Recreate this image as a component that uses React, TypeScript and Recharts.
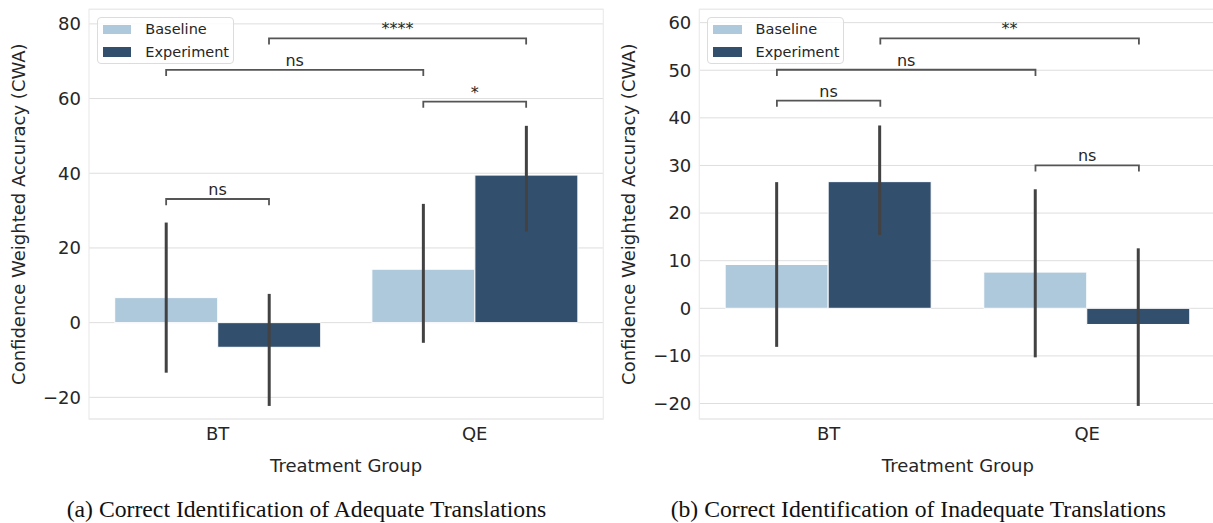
import React from 'react';
import {
  ComposedChart,
  Bar,
  XAxis,
  YAxis,
  ErrorBar,
  Line,
  ReferenceArea,
  ReferenceDot,
  CartesianGrid,
  Legend,
} from 'recharts';

// ---------- data ----------
const groups = ['BT', 'QE'];
const seriesNames = ['Baseline', 'Experiment'];
const hueOffsets = [-0.2, 0.2];

// Panel (a): Correct Identification of Adequate Translations
const adequateBaseline = [6.7, 14.3];
const adequateBaselineCI = [[-13.4, 26.8], [-5.4, 31.8]];
const adequateExperiment = [-6.6, 39.5];
const adequateExperimentCI = [[-22.3, 7.7], [24.4, 52.7]];
const adequateTicks = [-20, 0, 20, 40, 60, 80];
const adequateDomain = [-25.8, 83.9];
const adequateBrackets = [
  { from: [0, 0], to: [0, 1], y: 33.1, label: 'ns' },
  { from: [0, 0], to: [1, 0], y: 67.7, label: 'ns' },
  { from: [1, 0], to: [1, 1], y: 59.2, label: '*' },
  { from: [0, 1], to: [1, 1], y: 76.1, label: '****' },
];

// Panel (b): Correct Identification of Inadequate Translations
const inadequateBaseline = [9.2, 7.6];
const inadequateBaselineCI = [[-8.1, 26.5], [-10.3, 25.0]];
const inadequateExperiment = [26.6, -3.4];
const inadequateExperimentCI = [[15.4, 38.4], [-20.5, 12.6]];
const inadequateTicks = [-20, -10, 0, 10, 20, 30, 40, 50, 60];
const inadequateDomain = [-23.25, 62.8];
const inadequateBrackets = [
  { from: [0, 0], to: [0, 1], y: 43.6, label: 'ns' },
  { from: [0, 0], to: [1, 0], y: 50.1, label: 'ns' },
  { from: [1, 0], to: [1, 1], y: 30.0, label: 'ns' },
  { from: [0, 1], to: [1, 1], y: 56.7, label: '**' },
];

const captions = [
  '(a) Correct Identification of Adequate Translations',
  '(b) Correct Identification of Inadequate Translations',
];
const xLabel = 'Treatment Group';
const yLabel = 'Confidence Weighted Accuracy (CWA)';

// ---------- styles ----------
const LIGHT = '#aec8dc';
const DARK = '#324f6e';
const TEXT = '#262626';
const FONT = 'DejaVu Sans';
const TIP_FRACTION = 0.015;

const fmtTick = (v: number) => (v < 0 ? `\u2212${Math.abs(v)}` : `${v}`);

function buildRows(base: number[], baseCI: number[][], exp: number[], expCI: number[][]) {
  return groups.map((g, i) => ({
    group: g,
    base: base[i],
    baseErr: [base[i] - baseCI[i][0], baseCI[i][1] - base[i]],
    exp: exp[i],
    expErr: [exp[i] - expCI[i][0], expCI[i][1] - exp[i]],
  }));
}

const LegendBox = (props: any) => {
  const items = (props.payload || []).filter((p: any) => p.type !== 'none');
  return (
    <div
      style={{
        width: 137.3,
        height: 47.6,
        boxSizing: 'border-box',
        border: '1px solid #dcdcdc',
        borderRadius: 4,
        background: 'rgba(255,255,255,0.85)',
        paddingTop: 0.5,
        fontFamily: FONT,
      }}
    >
      {items.map((p: any) => (
        <div key={p.value} style={{ display: 'flex', alignItems: 'center', height: 22.6 }}>
          <span
            style={{
              display: 'inline-block',
              width: 28.7,
              height: 9.3,
              marginLeft: 5,
              background: p.color,
            }}
          />
          <span style={{ marginLeft: 14, fontSize: 14.5, color: TEXT, lineHeight: 1 }}>{p.value}</span>
        </div>
      ))}
    </div>
  );
};

const YLabel = (props: any) => {
  const vb = props.viewBox || { x: 0, y: 0, width: 0, height: 0 };
  const cx = vb.x + 25.5;
  const cy = vb.y + vb.height / 2;
  return (
    <text
      x={cx}
      y={cy}
      transform={`rotate(-90, ${cx}, ${cy})`}
      textAnchor="middle"
      fill={TEXT}
      fontSize={18}
      fontFamily={FONT}
    >
      {yLabel}
    </text>
  );
};

type PanelProps = {
  left: number;
  yAxisWidth: number;
  marginRight: number;
  rows: any[];
  ticks: number[];
  domain: number[];
  brackets: { from: number[]; to: number[]; y: number; label: string }[];
};

const Panel = ({ left, yAxisWidth, marginRight, rows, ticks, domain, brackets }: PanelProps) => {
  const tip = (domain[1] - domain[0]) * TIP_FRACTION;
  return (
    <div style={{ position: 'absolute', left, top: 0 }}>
      <ComposedChart
        width={620}
        height={523}
        data={rows}
        margin={{ top: 9.3, right: marginRight, bottom: 44, left: 0 }}
        barCategoryGap="10%"
        barGap={0}
      >
        <CartesianGrid vertical={false} stroke="#dedede" strokeWidth={1} />
        <XAxis
          dataKey="group"
          type="category"
          height={60}
          axisLine={false}
          tickLine={false}
          tickSize={0}
          tickMargin={8}
          tick={{ fill: TEXT, fontSize: 18, fontFamily: FONT }}
          label={{ value: xLabel, position: 'insideBottom', offset: 7, fill: TEXT, fontSize: 18, fontFamily: FONT }}
        />
        <XAxis xAxisId="num" type="number" dataKey="x" domain={[-0.5, 1.5]} allowDataOverflow hide />
        <YAxis
          type="number"
          width={yAxisWidth}
          domain={domain}
          ticks={ticks}
          interval={0}
          allowDataOverflow
          axisLine={false}
          tickLine={false}
          tickSize={0}
          tickMargin={8}
          tickFormatter={fmtTick}
          tick={{ fill: TEXT, fontSize: 18, fontFamily: FONT }}
          label={<YLabel />}
        />
        <ReferenceArea
          xAxisId="num"
          x1={-0.5}
          x2={1.5}
          y1={domain[0]}
          y2={domain[1]}
          fill="none"
          stroke="#ebebeb"
          strokeWidth={1.2}
          ifOverflow="visible"
        />
        <Bar dataKey="base" name={seriesNames[0]} fill={LIGHT} stroke="#ffffff" strokeWidth={1} isAnimationActive={false}>
          <ErrorBar dataKey="baseErr" direction="y" width={0} stroke="#424242" strokeWidth={3} />
        </Bar>
        <Bar dataKey="exp" name={seriesNames[1]} fill={DARK} stroke="#ffffff" strokeWidth={1} isAnimationActive={false}>
          <ErrorBar dataKey="expErr" direction="y" width={0} stroke="#424242" strokeWidth={3} />
        </Bar>
        {brackets.map((b, i) => {
          const x1 = b.from[0] + hueOffsets[b.from[1]];
          const x2 = b.to[0] + hueOffsets[b.to[1]];
          const pts = [
            { x: x1, y: b.y - tip },
            { x: x1, y: b.y },
            { x: x2, y: b.y },
            { x: x2, y: b.y - tip },
          ];
          return (
            <Line
              key={`br-${i}`}
              xAxisId="num"
              data={pts}
              dataKey="y"
              type="linear"
              stroke="#555555"
              strokeWidth={1.8}
              dot={false}
              activeDot={false}
              legendType="none"
              isAnimationActive={false}
            />
          );
        })}
        {brackets.map((b, i) => {
          const x1 = b.from[0] + hueOffsets[b.from[1]];
          const x2 = b.to[0] + hueOffsets[b.to[1]];
          return (
            <ReferenceDot
              key={`lb-${i}`}
              xAxisId="num"
              x={(x1 + x2) / 2}
              y={b.y}
              r={0}
              fill="none"
              stroke="none"
              label={{ value: b.label, position: 'top', offset: 4, fill: TEXT, fontSize: 16, fontFamily: FONT }}
            />
          );
        })}
        <Legend
          layout="vertical"
          align="center"
          verticalAlign="middle"
          content={<LegendBox />}
          wrapperStyle={{ left: yAxisWidth + 7.6, top: 16.7, width: 'auto', height: 'auto' }}
        />
      </ComposedChart>
    </div>
  );
};

export default function App() {
  const rowsA = buildRows(adequateBaseline, adequateBaselineCI, adequateExperiment, adequateExperimentCI);
  const rowsB = buildRows(inadequateBaseline, inadequateBaselineCI, inadequateExperiment, inadequateExperimentCI);
  return (
    <div
      style={{
        position: 'absolute',
        left: 0,
        top: 0,
        width: 1213,
        height: 523,
        overflow: 'hidden',
        background: '#ffffff',
        fontFamily: FONT,
      }}
    >
      <Panel left={0} yAxisWidth={89} marginRight={16.7} rows={rowsA} ticks={adequateTicks} domain={adequateDomain} brackets={adequateBrackets} />
      <Panel left={610} yAxisWidth={89.3} marginRight={13.5} rows={rowsB} ticks={inadequateTicks} domain={inadequateDomain} brackets={inadequateBrackets} />
      <svg width={1213} height={523} style={{ position: 'absolute', left: 0, top: 0, pointerEvents: 'none' }}>
        <text x={306.5} y={517} textAnchor="middle" fontFamily="Liberation Serif" fontSize={23.7} fill="#111">
          {captions[0]}
        </text>
        <text x={918.3} y={517} textAnchor="middle" fontFamily="Liberation Serif" fontSize={23.7} fill="#111">
          {captions[1]}
        </text>
      </svg>
    </div>
  );
}
